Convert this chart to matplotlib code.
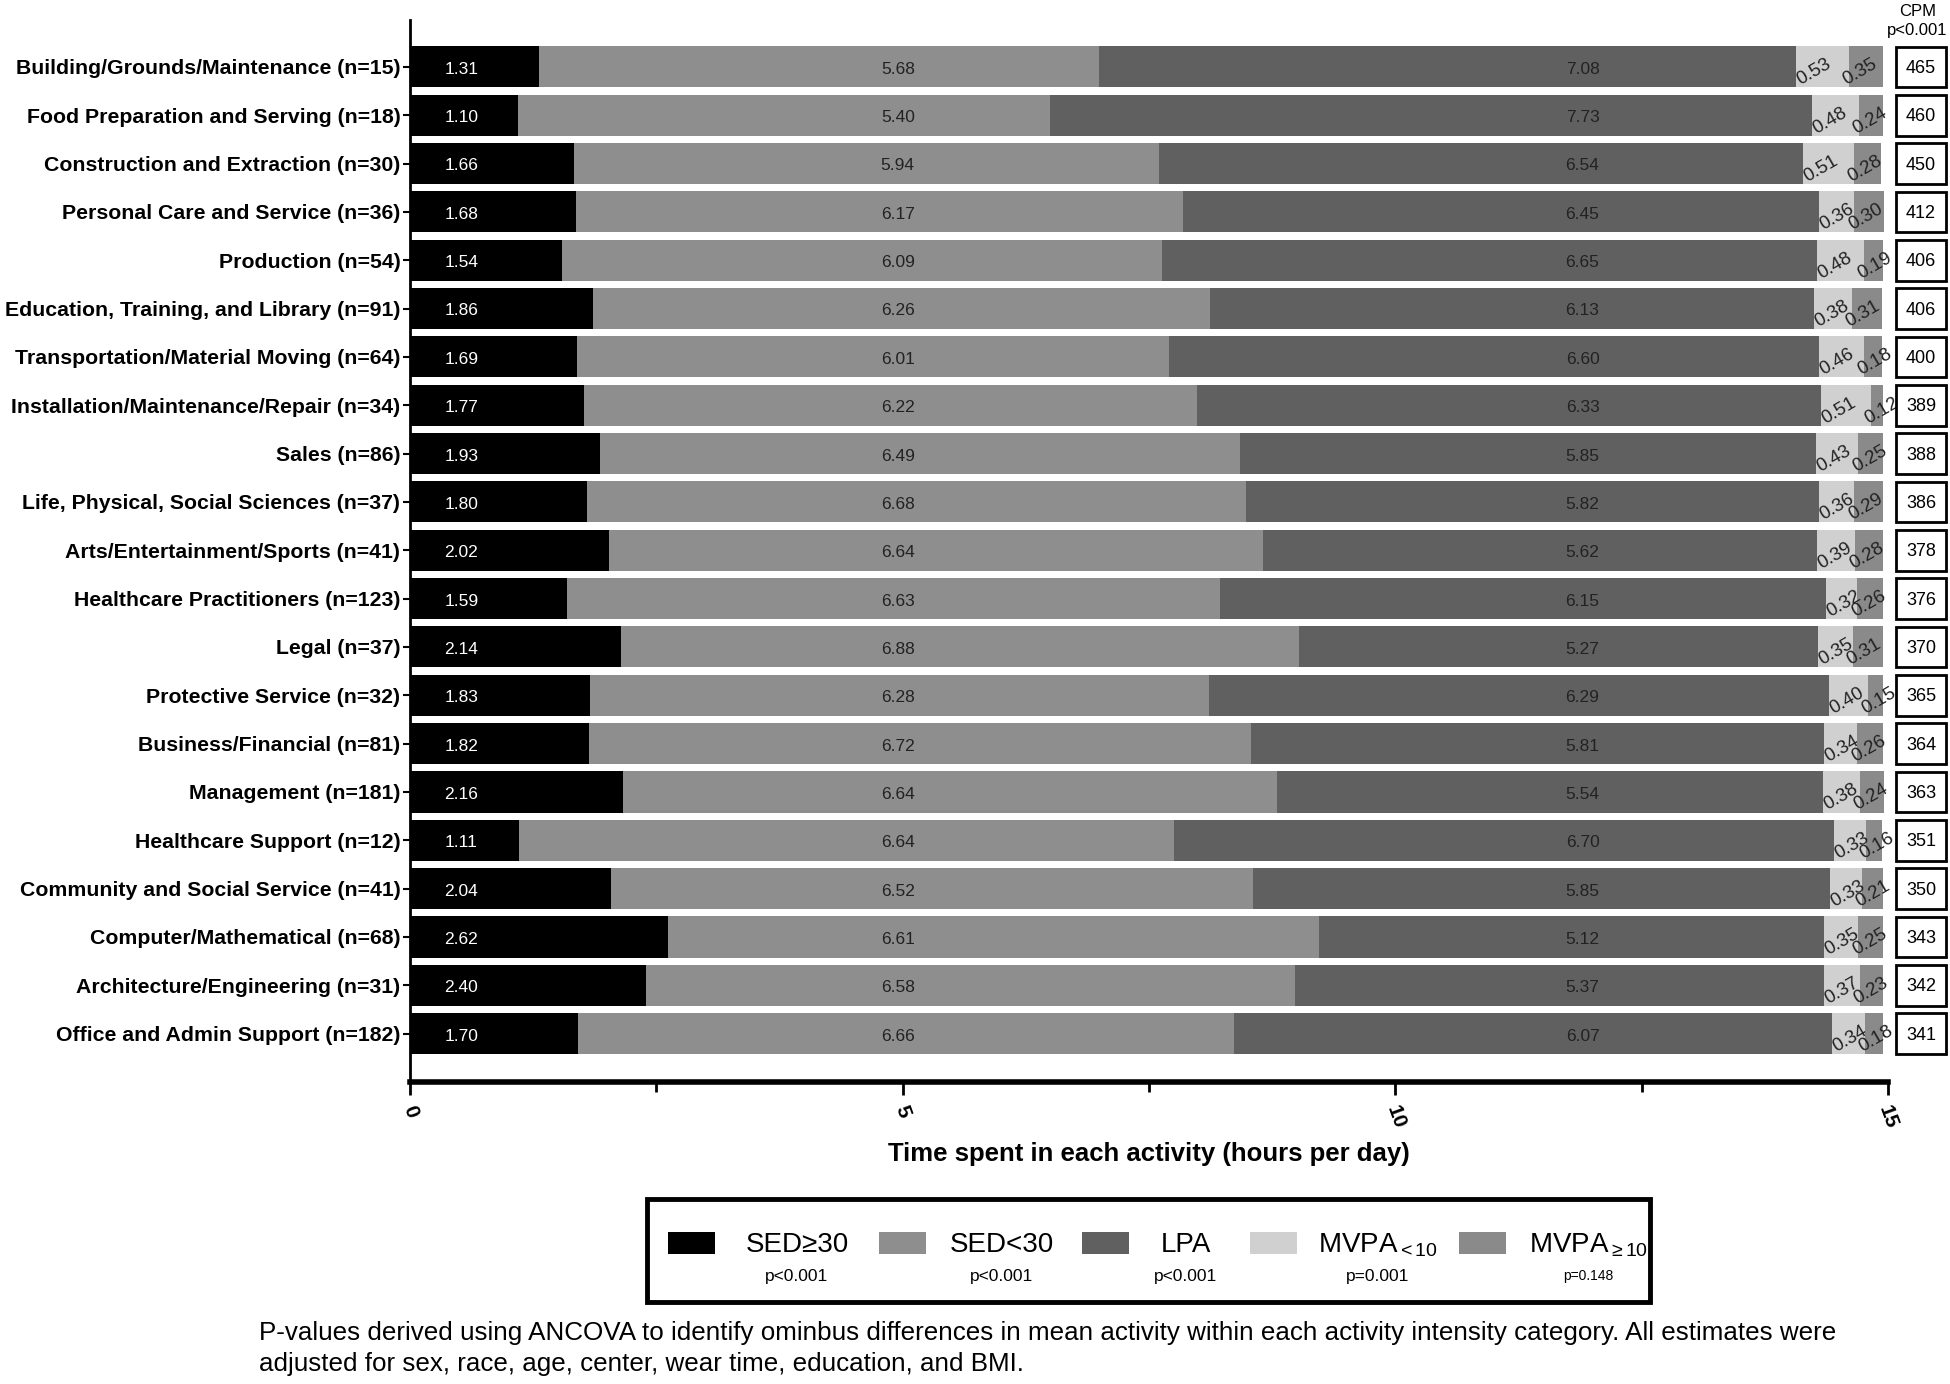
import matplotlib
matplotlib.use("Agg")
import matplotlib.pyplot as plt
from matplotlib.patches import Rectangle
from matplotlib.transforms import blended_transform_factory
from matplotlib.ticker import MultipleLocator

plt.rcParams['font.family'] = ['Liberation Sans', 'DejaVu Sans']
plt.rcParams['mathtext.fontset'] = 'custom'
plt.rcParams['mathtext.rm'] = 'Liberation Sans'
plt.rcParams['mathtext.it'] = 'Liberation Sans'

categories = [
    "Building/Grounds/Maintenance (n=15)",
    "Food Preparation and Serving (n=18)",
    "Construction and Extraction (n=30)",
    "Personal Care and Service (n=36)",
    "Production (n=54)",
    "Education, Training, and Library (n=91)",
    "Transportation/Material Moving (n=64)",
    "Installation/Maintenance/Repair (n=34)",
    "Sales (n=86)",
    "Life, Physical, Social Sciences (n=37)",
    "Arts/Entertainment/Sports (n=41)",
    "Healthcare Practitioners (n=123)",
    "Legal (n=37)",
    "Protective Service (n=32)",
    "Business/Financial (n=81)",
    "Management (n=181)",
    "Healthcare Support (n=12)",
    "Community and Social Service (n=41)",
    "Computer/Mathematical (n=68)",
    "Architecture/Engineering (n=31)",
    "Office and Admin Support (n=182)",
]
sed_ge30 = [1.31, 1.10, 1.66, 1.68, 1.54, 1.86, 1.69, 1.77, 1.93, 1.80, 2.02,
            1.59, 2.14, 1.83, 1.82, 2.16, 1.11, 2.04, 2.62, 2.40, 1.70]
sed_lt30 = [5.68, 5.40, 5.94, 6.17, 6.09, 6.26, 6.01, 6.22, 6.49, 6.68, 6.64,
            6.63, 6.88, 6.28, 6.72, 6.64, 6.64, 6.52, 6.61, 6.58, 6.66]
lpa = [7.08, 7.73, 6.54, 6.45, 6.65, 6.13, 6.60, 6.33, 5.85, 5.82, 5.62,
       6.15, 5.27, 6.29, 5.81, 5.54, 6.70, 5.85, 5.12, 5.37, 6.07]
mvpa_lt10 = [0.53, 0.48, 0.51, 0.36, 0.48, 0.38, 0.46, 0.51, 0.43, 0.36, 0.39,
             0.32, 0.35, 0.40, 0.34, 0.38, 0.33, 0.33, 0.35, 0.37, 0.34]
mvpa_ge10 = [0.35, 0.24, 0.28, 0.30, 0.19, 0.31, 0.18, 0.12, 0.25, 0.29, 0.28,
             0.26, 0.31, 0.15, 0.26, 0.24, 0.16, 0.21, 0.25, 0.23, 0.18]
cpm = [465, 460, 450, 412, 406, 406, 400, 389, 388, 386, 378,
       376, 370, 365, 364, 363, 351, 350, 343, 342, 341]

series_names = ["SED≥30", "SED<30", "LPA", "MVPA$_{<10}$", "MVPA$_{\\geq10}$"]
p_values = ["p<0.001", "p<0.001", "p<0.001", "p=0.001", "p=0.148"]
colors = ["#000000", "#8e8e8e", "#606060", "#d0d0d0", "#8a8a8a"]
x_ticks = [0, 5, 10, 15]

W, H = 1950, 1384
fig = plt.figure(figsize=(W / 100, H / 100), dpi=100)
ax = fig.add_axes([410 / W, 1 - 1082 / H, (1888 - 410) / W, (1082 - 20) / H])

series = [sed_ge30, sed_lt30, lpa, mvpa_lt10, mvpa_ge10]
ypos = list(range(len(categories)))
left = [0.0] * len(categories)
lefts = []
for vals, col in zip(series, colors):
    ax.barh(ypos, vals, left=left, height=0.85, color=col, edgecolor='none')
    lefts.append(list(left))
    left = [l + v for l, v in zip(left, vals)]

# value labels
for i in ypos:
    ax.text(0.52, i + 0.05, f"{sed_ge30[i]:.2f}", color='white', fontsize=12.5,
            ha='center', va='center')
    ax.text(4.95, i + 0.05, f"{sed_lt30[i]:.2f}", color='#222222', fontsize=12.5,
            ha='center', va='center')
    ax.text(11.9, i + 0.05, f"{lpa[i]:.2f}", color='#222222', fontsize=12.5,
            ha='center', va='center')
    ax.text(lefts[3][i] + 0.02, i + 0.3, f"{mvpa_lt10[i]:.2f}", color='#222222',
            fontsize=13.5, ha='left', va='center', rotation=30, rotation_mode='anchor')
    ax.text(lefts[4][i] - 0.05, i + 0.3, f"{mvpa_ge10[i]:.2f}", color='#222222',
            fontsize=13.5, ha='left', va='center', rotation=30, rotation_mode='anchor')

ax.set_ylim(21.0, -0.97)
ax.set_xlim(0, 15)
ax.set_yticks(ypos)
ax.set_yticklabels(categories, fontsize=15.3, fontweight='bold')
ax.set_xticks(x_ticks)
ax.set_xticklabels([str(t) for t in x_ticks], fontsize=15, fontweight='bold',
                   rotation=-70, ha='center', va='top')
ax.xaxis.set_minor_locator(MultipleLocator(2.5))
ax.tick_params(axis='y', length=5, width=1.5, pad=2)
ax.tick_params(axis='x', which='major', length=9, width=2, pad=6)
ax.tick_params(axis='x', which='minor', length=7, width=2)
for s in ['top', 'right']:
    ax.spines[s].set_visible(False)
ax.spines['left'].set_linewidth(2)
ax.spines['bottom'].set_linewidth(4)
ax.set_xlabel("Time spent in each activity (hours per day)", fontsize=18.5,
              fontweight='bold', labelpad=8)

# CPM boxes
tr = blended_transform_factory(fig.transFigure, ax.transData)
bw = 50 / W
bx = 1921 / W
for i in ypos:
    r = Rectangle((bx - bw / 2, i - 0.42), bw, 0.84, transform=tr, facecolor='white',
                  edgecolor='black', linewidth=2, clip_on=False, zorder=3)
    ax.add_patch(r)
    ax.text(bx, i + 0.03, str(cpm[i]), transform=tr, ha='center', va='center',
            fontsize=13, zorder=4)
fig.text(1918 / W, 1 - 11 / H, "CPM", ha='center', va='center', fontsize=12)
fig.text(1917 / W, 1 - 30 / H, "p<0.001", ha='center', va='center', fontsize=12)

# legend box
fig.patches.append(Rectangle((647 / W, 1 - 1302 / H), (1650 - 647) / W, (1302 - 1199) / H,
                             transform=fig.transFigure, facecolor='white',
                             edgecolor='black', linewidth=3.5))
patch_x = [668, 879, 1082, 1250, 1459]
label_x = [797, 1002, 1186, 1378, 1588]
pv_sizes = [12.5, 12.5, 12.5, 12.5, 10]
for k in range(5):
    fig.patches.append(Rectangle((patch_x[k] / W, 1 - 1254 / H), 47 / W, 22 / H,
                                 transform=fig.transFigure, facecolor=colors[k],
                                 edgecolor='none'))
    fig.text(label_x[k] / W, 1 - 1245 / H, series_names[k], ha='center', va='center',
             fontsize=20)
    fig.text(label_x[k] / W, 1 - 1276 / H, p_values[k], ha='center', va='center',
             fontsize=pv_sizes[k])

fig.text(259 / W, 1 - 1333 / H,
         "P-values derived using ANCOVA to identify ominbus differences in mean activity within each activity intensity category. All estimates were",
         ha='left', va='center', fontsize=18.7)
fig.text(259 / W, 1 - 1364 / H,
         "adjusted for sex, race, age, center, wear time, education, and BMI.",
         ha='left', va='center', fontsize=18.7)

fig.savefig("out.png", dpi=100)
